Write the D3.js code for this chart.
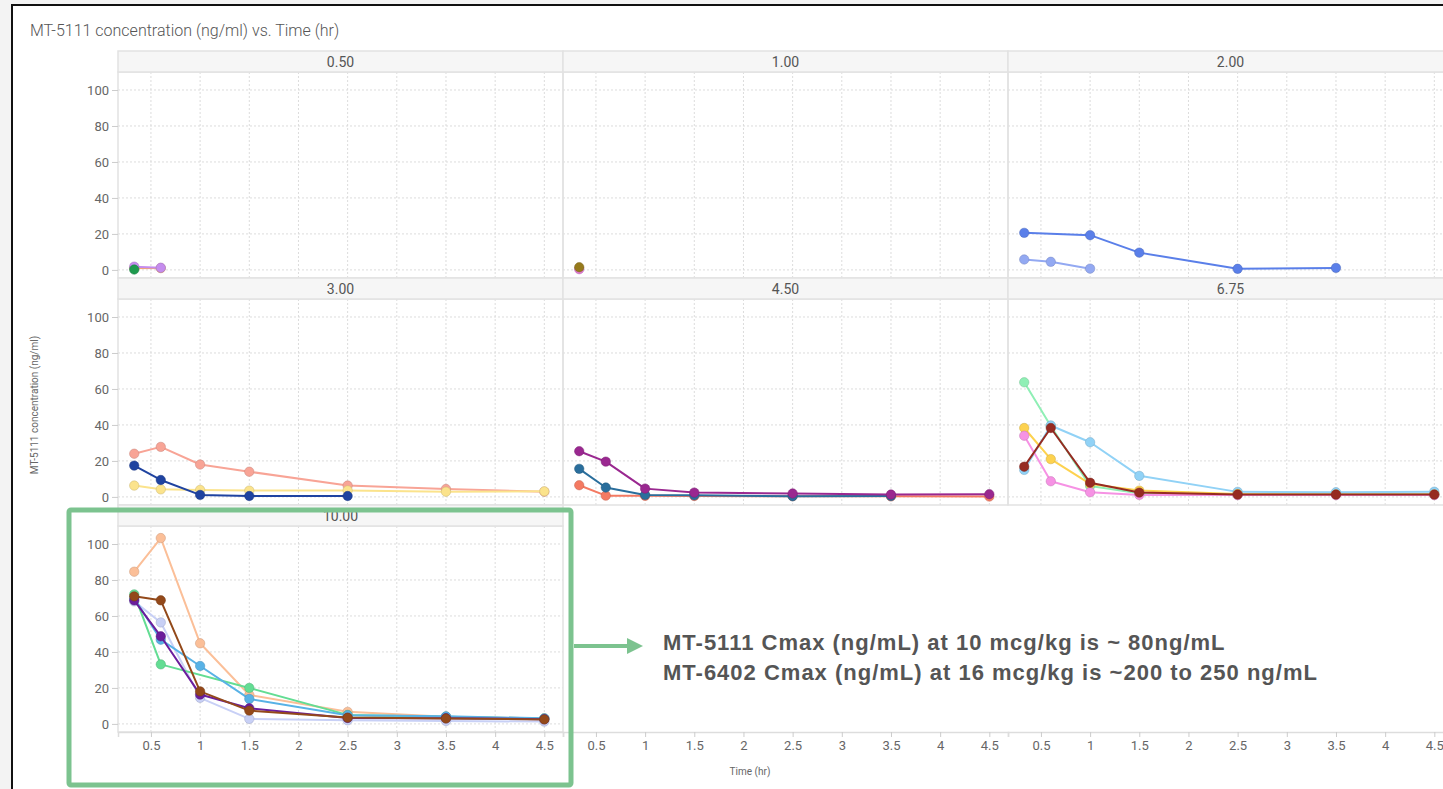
<!DOCTYPE html>
<html>
<head>
<meta charset="utf-8">
<script src="https://cdn.jsdelivr.net/npm/d3@7"></script>
<style>
  html, body { margin: 0; padding: 0; background: #f3f3f3; }
  svg { display: block; font-family: Roboto, "Noto Sans", sans-serif; }
</style>
</head>
<body>
<svg id="chart" width="1443" height="789"></svg>
<script>
// ---------------- DATA ----------------
const title = "MT-5111 concentration (ng/ml) vs. Time (hr)";
const yTitle = "MT-5111 concentration (ng/ml)";
const xTitle = "Time (hr)";
const panelLabels = ["0.50", "1.00", "2.00", "3.00", "4.50", "6.75", "10.00"];
const times = [0.33, 0.6, 1, 1.5, 2.5, 3.5, 4.5];
const xTicks = [0.5, 1, 1.5, 2, 2.5, 3, 3.5, 4, 4.5];
const yTicks = [0, 20, 40, 60, 80, 100];

// values per subject, aligned with `times` (null = no sample)
const vals050 = [
  [1.0, 1.0, null, null, null, null, null],
  [1.8, 1.2, null, null, null, null, null],
  [0.2, null, null, null, null, null, null]
];
const vals100 = [
  [0.4, null, null, null, null, null, null],
  [1.5, null, null, null, null, null, null]
];
const vals200 = [
  [5.8, 4.5, 0.7, null, null, null, null],
  [20.6, null, 19.3, 9.6, 0.6, 1.1, null]
];
const vals300 = [
  [24.0, 27.8, 18.0, 14.0, 6.3, 4.4, 2.9],
  [6.3, 4.2, 3.9, 3.5, 3.6, 2.9, 3.1],
  [17.4, 9.4, 1.1, 0.5, 0.5, null, null]
];
const vals450 = [
  [6.5, 0.7, 0.6, 0.5, 0.4, 0.3, 0.2],
  [15.6, 5.2, 1.1, 0.9, 0.4, 0.5, null],
  [25.4, 19.6, 4.6, 2.4, 1.9, 1.3, 1.5]
];
const vals675 = [
  [63.7, 39.4, 6.1, 2.0, 1.5, 1.5, 1.5],
  [15.0, 39.7, 30.4, 11.7, 2.8, 2.6, 2.9],
  [38.3, 21.0, 7.2, 3.5, 1.6, 1.4, 1.4],
  [34.0, 8.7, 2.6, 1.1, 1.0, 1.0, 1.0],
  [16.8, 38.3, 7.9, 2.4, 1.3, 1.3, 1.3]
];
const vals1000 = [
  [84.6, 103.3, 44.8, 16.1, 6.7, 4.0, 3.0],
  [68.1, 56.4, 14.5, 2.8, 2.0, 1.6, 1.3],
  [72.0, 33.1, null, 20.0, 5.0, 4.0, 3.0],
  [69.8, 46.8, 32.2, 13.9, 4.8, 4.2, 3.1],
  [68.7, 48.7, 16.3, 8.7, 3.3, 3.2, 2.6],
  [70.9, 68.7, 18.1, 7.4, 3.5, 3.0, 2.5]
];
const panelValues = [vals050, vals100, vals200, vals300, vals450, vals675, vals1000];

// colours per subject (same order as the value arrays)
const colors050 = ["#f4a672", "#c58cee", "#1e9a4e"];
const colors100 = ["#e27ad6", "#967a1c"];
const colors200 = ["#93a9f2", "#5a7fe9"];
const colors300 = ["#f8a496", "#fbe38c", "#1f43a0"];
const colors450 = ["#f47a62", "#2a6e9c", "#9a2890"];
const colors675 = ["#8fefb5", "#91d2f6", "#fdd24f", "#f692e4", "#962b22"];
const colors1000 = ["#fbbf98", "#c8d0f6", "#63dd93", "#58b2e6", "#6b1d9c", "#93491a"];
const panelColors = [colors050, colors100, colors200, colors300, colors450, colors675, colors1000];

const annotation = [
  "MT-5111 Cmax (ng/mL) at 10 mcg/kg is ~ 80ng/mL",
  "MT-6402 Cmax (ng/mL) at 16 mcg/kg is ~200 to 250 ng/mL"
];

// ---------------- LAYOUT ----------------
const W = 1443, H = 789;
const colX = [118, 563, 1008], colW = 445;
const rowY = [51, 278, 505], headerH = 21, plotH = 206;
const xDomain = [0.165, 4.69], yDomain = [-4.5, 110];
const gridColor = "#dcdcdc", frameColor = "#e2e2e2", textColor = "#666";
const annotGreen = "#7cc38f";

const svg = d3.select("#chart");

// page + frame
svg.append("rect").attr("x", 0).attr("y", 0).attr("width", W).attr("height", H).attr("fill", "#f3f3f3");
svg.append("rect").attr("x", 13).attr("y", 6).attr("width", W).attr("height", H).attr("fill", "#fff");
svg.append("line").attr("x1", 12).attr("x2", 12).attr("y1", 5).attr("y2", H).attr("stroke", "#111").attr("stroke-width", 2);
svg.append("line").attr("x1", 11).attr("x2", W).attr("y1", 5).attr("y2", 5).attr("stroke", "#111").attr("stroke-width", 2);

svg.append("text").attr("x", 30).attr("y", 36).attr("font-size", 16).attr("fill", "#555")
  .attr("font-weight", 300).text(title);

function xScaleFor(c) { return d3.scaleLinear().domain(xDomain).range([colX[c], colX[c] + colW]); }
function yScaleFor(r) { return d3.scaleLinear().domain(yDomain).range([rowY[r] + headerH + plotH, rowY[r] + headerH]); }

panelLabels.forEach((label, i) => {
  const r = Math.floor(i / 3), c = i % 3;
  const x = xScaleFor(c), y = yScaleFor(r);
  const g = svg.append("g");
  const top = rowY[r] + headerH, bottom = top + plotH;
  const left = colX[c], right = colX[c] + colW;

  // grid
  g.selectAll(".vg").data(xTicks).join("line")
    .attr("x1", d => x(d)).attr("x2", d => x(d)).attr("y1", top).attr("y2", bottom)
    .attr("stroke", gridColor).attr("stroke-dasharray", "2,2").attr("stroke-width", 1);
  g.selectAll(".hg").data(yTicks).join("line")
    .attr("x1", left).attr("x2", right).attr("y1", d => y(d)).attr("y2", d => y(d))
    .attr("stroke", gridColor).attr("stroke-dasharray", "2,2").attr("stroke-width", 1);

  // frame
  g.append("rect").attr("x", left).attr("y", top).attr("width", colW).attr("height", plotH)
    .attr("fill", "none").attr("stroke", frameColor).attr("stroke-width", 1.5);
  // header strip
  g.append("rect").attr("x", left).attr("y", rowY[r]).attr("width", colW).attr("height", headerH)
    .attr("fill", "#f6f6f6").attr("stroke", frameColor).attr("stroke-width", 1.5);
  g.append("text").attr("x", left + colW / 2).attr("y", rowY[r] + headerH / 2 + 5)
    .attr("text-anchor", "middle").attr("font-size", 14).attr("fill", "#555").text(label);

  // series
  const vals = panelValues[i], cols = panelColors[i];
  const line = d3.line().defined(d => d[1] != null).x(d => x(d[0])).y(d => y(d[1]));
  vals.forEach((series, k) => {
    const pts = times.map((t, j) => [t, series[j]]).filter(d => d[1] != null);
    const col = cols[k];
    g.append("path").datum(pts).attr("d", line).attr("fill", "none")
      .attr("stroke", col).attr("stroke-width", 2).attr("stroke-linejoin", "round");
    g.selectAll(null).data(pts).join("circle")
      .attr("cx", d => x(d[0])).attr("cy", d => y(d[1])).attr("r", 4.7)
      .attr("fill", col).attr("stroke", d3.color(col).darker(0.6)).attr("stroke-opacity", 0.5)
      .attr("stroke-width", 1);
  });
});

// y axes (left column)
[0, 1, 2].forEach(r => {
  const ax = svg.append("g").attr("transform", `translate(${colX[0]},0)`)
    .call(d3.axisLeft(yScaleFor(r)).tickValues(yTicks).tickSize(6).tickPadding(3));
  ax.select(".domain").remove();
  ax.selectAll("line").attr("stroke", "#ccc");
  ax.selectAll("text").attr("font-size", 13).attr("fill", textColor).attr("font-family", "Roboto, sans-serif");
});

// x axes (bottom)
const axisY = rowY[2] + headerH + plotH;
[0, 1, 2].forEach(c => {
  const ax = svg.append("g").attr("transform", `translate(0,${axisY})`)
    .call(d3.axisBottom(xScaleFor(c)).tickValues(xTicks).tickFormat(d3.format("")).tickSize(5).tickPadding(4));
  ax.select(".domain").attr("stroke", "#ddd").attr("stroke-width", 1.5);
  ax.selectAll("line").attr("stroke", "#ccc");
  ax.selectAll("text").attr("font-size", 13).attr("fill", textColor).attr("font-family", "Roboto, sans-serif");
});

// axis titles
svg.append("text").attr("transform", "translate(38,405) rotate(-90)").attr("text-anchor", "middle")
  .attr("font-size", 10).attr("fill", "#666").text(yTitle);
svg.append("text").attr("x", 750).attr("y", 775).attr("text-anchor", "middle")
  .attr("font-size", 10).attr("fill", "#666").text(xTitle);

// annotation box + arrow + text
svg.append("rect").attr("x", 69).attr("y", 510).attr("width", 502).attr("height", 275).attr("rx", 2)
  .attr("fill", "none").attr("stroke", annotGreen).attr("stroke-width", 5);
svg.append("line").attr("x1", 574).attr("x2", 630).attr("y1", 646).attr("y2", 646)
  .attr("stroke", annotGreen).attr("stroke-width", 4);
svg.append("path").attr("d", "M627,638 L643,646 L627,654 Z").attr("fill", annotGreen);
annotation.forEach((t, i) => {
  svg.append("text").attr("x", 663).attr("y", 650 + i * 30)
    .attr("font-family", "Liberation Sans, Arial, sans-serif").attr("font-weight", "bold")
    .attr("font-size", 22).attr("letter-spacing", 1.0)
    .attr("fill", "#555").text(t);
});
</script>
</body>
</html>
